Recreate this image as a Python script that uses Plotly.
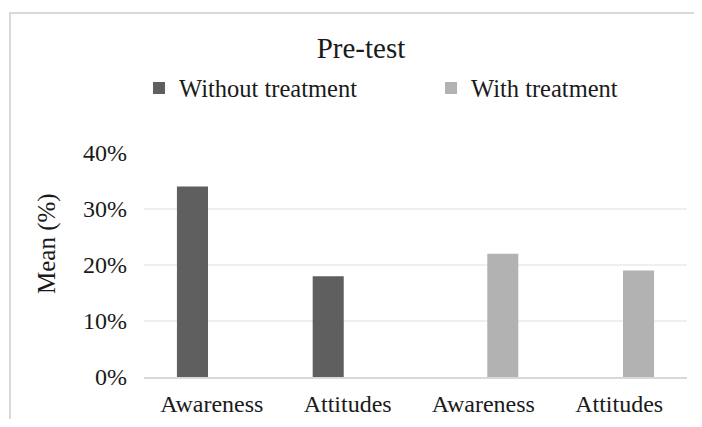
import plotly.graph_objects as go

categories = ["Awareness", "Attitudes", "Awareness", "Attitudes"]
positions = [0, 1, 2, 3]
without_vals = [0.34, 0.18, None, None]
with_vals = [None, None, 0.22, 0.19]
series_names = ["Without treatment", "With treatment"]
y_ticks = [0, 0.1, 0.2, 0.3, 0.4]

FONT = "Times New Roman"
OFF = 8  # page body margin offsets the figure in the window
WIN_W, WIN_H = 702, 427
W, H = WIN_W - 2 * OFF, WIN_H - 2 * OFF  # fit inside the window, no scrollbars
# plot area in window pixels
PX0, PX1, PY0, PY1 = 144, 687, 153, 377
L, R = PX0 - OFF, W - (PX1 - OFF)
T, B = PY0 - OFF, H - (PY1 - OFF)
pw, ph = W - L - R, H - T - B

fig = go.Figure()
fig.add_trace(go.Bar(x=positions, y=without_vals, name=series_names[0],
                     offsetgroup="a", legend="legend",
                     marker=dict(color="#5f5f5f", line=dict(width=0))))
fig.add_trace(go.Bar(x=positions, y=with_vals, name=series_names[1],
                     offsetgroup="b", legend="legend2",
                     marker=dict(color="#b2b2b2", line=dict(width=0))))

def px_x(x):
    return (x - OFF - L) / pw

def px_y(y):
    return (H - B - (y - OFF)) / ph

leg_common = dict(orientation="h", yanchor="middle", y=px_y(88), xanchor="left",
                  font=dict(family=FONT, size=24.5, color="#1a1a1a"),
                  itemwidth=30, bgcolor="rgba(0,0,0,0)")

fig.update_layout(
    width=W, height=H,
    margin=dict(l=L, r=R, t=T, b=B, autoexpand=False),
    paper_bgcolor="white", plot_bgcolor="white",
    barmode="group", bargap=0.428, bargroupgap=0.2,
    font=dict(family=FONT, size=24, color="#1a1a1a"),
    title=dict(text="Pre-test", x=(361 - OFF) / W, xref="container", xanchor="center",
               y=1 - (48 - OFF) / H, yref="container", yanchor="middle",
               font=dict(family=FONT, size=29, color="#1a1a1a")),
    showlegend=True,
    legend=dict(leg_common, x=px_x(139)),
    legend2=dict(leg_common, x=px_x(431)),
    xaxis=dict(range=[-0.5, 3.5], tickvals=positions, ticktext=categories,
               showgrid=False, zeroline=False, showline=True,
               linecolor="#d9d9d9", linewidth=2, ticks="",
               ticklabelstandoff=4, tickfont=dict(size=24)),
    yaxis=dict(range=[0, 0.4], tickvals=y_ticks, tickformat=".0%",
               showgrid=True, gridcolor="#efefef", gridwidth=1.5,
               zeroline=False, showline=False, ticks="",
               ticklabelstandoff=16, tickfont=dict(size=24)),
    annotations=[dict(text="Mean (%)", textangle=-90, x=px_x(47), y=px_y(244),
                      xref="paper", yref="paper", showarrow=False,
                      xanchor="center", yanchor="middle",
                      font=dict(family=FONT, size=25, color="#1a1a1a"))],
    shapes=[dict(type="rect", xref="paper", yref="paper",
                 x0=px_x(10), x1=px_x(760), y0=px_y(480), y1=px_y(13),
                 line=dict(color="#d9d9d9", width=2), fillcolor="rgba(0,0,0,0)",
                 layer="below")],
)

fig.write_html("out.html")
